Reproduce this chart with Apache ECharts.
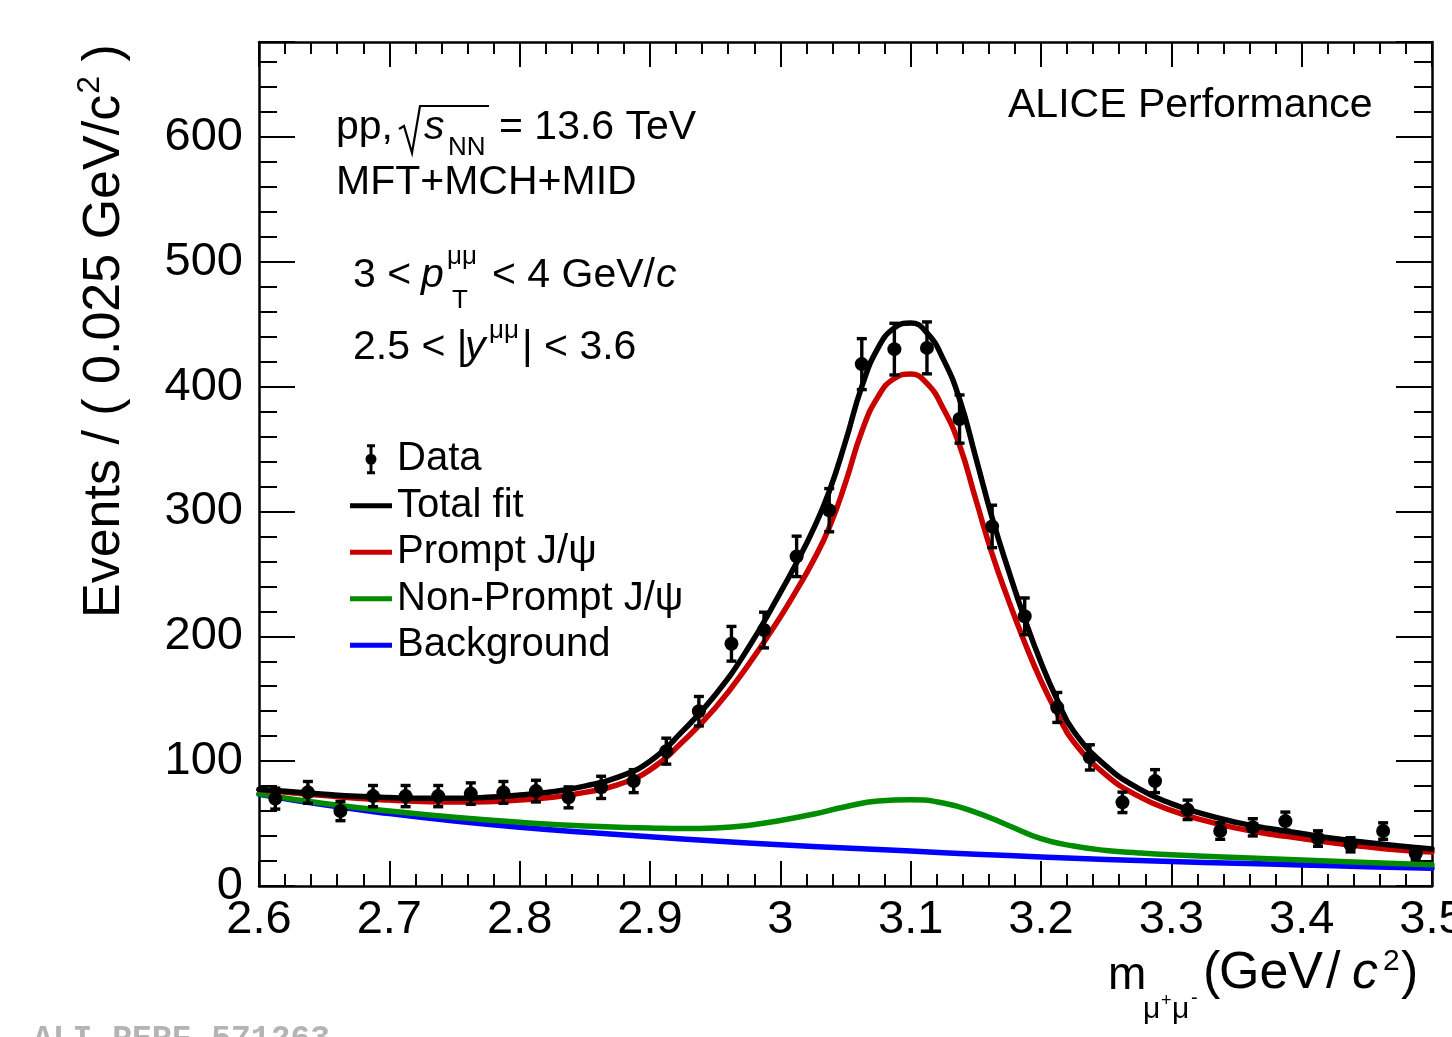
<!DOCTYPE html>
<html>
<head>
<meta charset="utf-8">
<script src="https://cdn.jsdelivr.net/npm/echarts@6/dist/echarts.min.js"></script>
<style>
  html, body { margin: 0; padding: 0; background: #fff; }
  #chart { width: 1452px; height: 1037px; }
</style>
</head>
<body>
<div id="chart"></div>
<script>
// bin centres (0.025 GeV/c2 bins) and counts
var binCenters = [2.6125, 2.6375, 2.6625, 2.6875, 2.7125, 2.7375, 2.7625, 2.7875, 2.8125, 2.8375,
  2.8625, 2.8875, 2.9125, 2.9375, 2.9625, 2.9875, 3.0125, 3.0375, 3.0625, 3.0875,
  3.1125, 3.1375, 3.1625, 3.1875, 3.2125, 3.2375, 3.2625, 3.2875, 3.3125, 3.3375,
  3.3625, 3.3875, 3.4125, 3.4375, 3.4625, 3.4875];
var counts = [70, 75, 60, 72, 72, 72, 74, 75, 76, 71, 79, 84, 108, 140, 194, 205, 264, 301, 418, 430,
  431, 374, 288, 216, 143, 103, 67, 84, 61, 44, 47, 52, 38, 33, 44, 26];
var errors = [8.4, 8.7, 7.7, 8.5, 8.5, 8.5, 8.6, 8.7, 8.7, 8.4, 8.9, 9.2, 10.4, 11.8, 13.9, 14.3, 16.2, 17.3, 20.4, 20.7,
  20.8, 19.3, 17.0, 14.7, 12.0, 10.1, 8.2, 9.2, 7.8, 6.6, 6.9, 7.2, 6.2, 5.7, 6.6, 5.1];

// fit curves
var fitX = [2.6, 2.625, 2.65, 2.675, 2.7, 2.725, 2.75, 2.775, 2.8, 2.825, 2.85, 2.875, 2.9, 2.925, 2.95, 2.975, 3.0,
  3.0125, 3.025, 3.0375, 3.05, 3.0625, 3.075, 3.0875, 3.1, 3.1125, 3.125, 3.1375, 3.15, 3.1625, 3.175, 3.1875, 3.2, 3.2125, 3.225,
  3.25, 3.275, 3.3, 3.325, 3.35, 3.375, 3.4, 3.425, 3.45, 3.475, 3.5];
var totalFit = [77.5, 75.5, 73.5, 71.8, 70.8, 70.2, 70.2, 71, 72.8, 75.5, 80, 87, 100, 124, 153, 190, 235,
  259, 285, 316, 356, 400, 431, 447, 451, 443, 422, 390, 343, 295, 253, 214, 179, 149, 124,
  96, 78, 66, 57.5, 51, 46, 42, 38, 34.8, 32, 29.6];
var promptFit = [77.2, 74.7, 72.5, 70.3, 68.8, 67.7, 67.2, 67.5, 68.8, 71, 75, 81, 93, 115.5, 142.5, 176.5, 215.5,
  237, 260, 287, 323, 364, 392, 406.5, 410, 402.5, 382.5, 353, 309.5, 266, 229, 195, 164.3, 138, 115.5,
  88.8, 71.8, 60.6, 52.5, 46.4, 41.7, 38.1, 34.4, 31.4, 28.9, 27.3];
var nonPromptX = [2.6, 2.65, 2.7, 2.75, 2.8, 2.85, 2.9, 2.925, 2.95, 2.975, 3.0, 3.025, 3.05, 3.075, 3.1, 3.125,
  3.15, 3.175, 3.2, 3.225, 3.25, 3.275, 3.3, 3.35, 3.4, 3.45, 3.5];
var nonPromptFit = [73.8, 66, 60, 55, 51, 48, 46.5, 46, 46.5, 48.5, 52.5, 57.5, 63.5, 68, 69, 66.5,
  59, 48.5, 38, 32, 28.5, 26.5, 25, 22.8, 20.8, 18.9, 17];
var bkgX = [2.6, 2.65, 2.7, 2.75, 2.8, 2.85, 2.9, 2.95, 3.0, 3.05, 3.1, 3.15, 3.2, 3.25, 3.3, 3.35, 3.4, 3.45, 3.5];
var bkgFit = [73.5, 65, 58, 52, 47, 43, 39.5, 36, 33, 30.5, 28, 25.5, 23.3, 21.3, 19.6, 18.2, 16.9, 15.5, 14.2];

var FONT = '"Liberation Sans", Arial, Helvetica, sans-serif';

function zip(xs, ys) {
  var out = [];
  for (var i = 0; i < xs.length; i++) out.push([xs[i], ys[i]]);
  return out;
}

// text piece placed by its alphabetic baseline
function tx(x, base, s, size, italic) {
  return {
    type: 'text', x: x, y: base - 0.35 * size, silent: true,
    style: {
      text: s, fill: '#000',
      font: (italic ? 'italic ' : '') + size + 'px ' + FONT,
      textAlign: 'left', align: 'left',
      textVerticalAlign: 'middle', verticalAlign: 'middle'
    }
  };
}

var ctx = document.createElement('canvas').getContext('2d');
function measure(s, size) {
  ctx.font = size + 'px ' + FONT;
  return ctx.measureText(s).width;
}

var chart = echarts.init(document.getElementById('chart'), null, { renderer: 'canvas' });

var errData = [];
for (var i = 0; i < binCenters.length; i++) {
  errData.push([binCenters[i], counts[i] - errors[i], counts[i] + errors[i]]);
}

var tickStyle = { color: '#000', width: 2 };
function xAxisCfg(pos) {
  return {
    type: 'value', position: pos, min: 2.6, max: 3.5, interval: 0.1,
    axisLine: { show: true, onZero: false, lineStyle: { color: '#000', width: 2.5 } },
    axisTick: { show: true, inside: true, length: 25, lineStyle: tickStyle },
    minorTick: { show: true, splitNumber: 5, length: 12, lineStyle: tickStyle },
    splitLine: { show: false },
    axisLabel: { show: pos === 'bottom', fontSize: 47, fontFamily: FONT, color: '#000', margin: 11 }
  };
}
function yAxisCfg(pos) {
  return {
    type: 'value', position: pos, min: 0, max: 676, interval: 100,
    axisLine: { show: true, onZero: false, lineStyle: { color: '#000', width: 2.5 } },
    axisTick: { show: true, inside: true, length: 36, lineStyle: tickStyle },
    minorTick: { show: true, splitNumber: 5, length: 18, lineStyle: tickStyle },
    splitLine: { show: false },
    axisLabel: { show: pos === 'left', fontSize: 47, fontFamily: FONT, color: '#000', margin: 16, showMaxLabel: false }
  };
}

function fitLine(name, xs, ys, color) {
  return {
    name: name, type: 'line', data: zip(xs, ys), xAxisIndex: 0, yAxisIndex: 0,
    symbol: 'none', smooth: 0.5, color: color,
    lineStyle: { color: color, width: 5.5, cap: 'round', join: 'round' }, itemStyle: { color: color },
    emphasis: { disabled: true }, animation: false
  };
}

// y title pieces (rotated)
var yt1 = 'Events / ( 0.025 GeV/c';
var w1 = measure(yt1, 52);
var w2 = measure('2', 32);

var graphics = [
  tx(1008, 120, 'ALICE Performance', 41),
  tx(336, 142, 'pp,', 41),
  { type: 'polyline', silent: true, shape: { points: [[399, 129], [404, 126], [412, 153], [420, 106], [489, 106]] },
    style: { stroke: '#000', lineWidth: 2.2, fill: null } },
  tx(424, 142, 's', 41, true),
  tx(448, 157, 'NN', 26),
  tx(499, 142, '= 13.6 TeV', 41),
  tx(336, 197, 'MFT+MCH+MID', 41),
  tx(353, 290, '3 <', 41),
  tx(421, 290, 'p', 41, true),
  tx(447, 266, 'μμ', 26),
  tx(452, 310, 'T', 26),
  tx(492, 290, '< 4 GeV/', 41),
  tx(656, 290, 'c', 41, true),
  tx(353, 362, '2.5 < |', 41),
  tx(465, 362, 'y', 41, true),
  tx(489, 340, 'μμ', 26),
  tx(522, 362, '| < 3.6', 41),
  // x title
  tx(1108, 992, 'm', 46),
  tx(1143, 1020, 'μ', 30),
  tx(1161, 1007, '+', 18),
  tx(1172, 1020, 'μ', 30),
  tx(1191, 1005, '-', 20),
  tx(1203, 992, '(', 52),
  tx(1219, 992, 'GeV', 52),
  tx(1326, 992, '/', 52),
  tx(1352, 992, 'c', 52, true),
  tx(1383, 972, '2', 30),
  tx(1401, 992, ')', 52),
  // y title
  {
    type: 'group', x: 123, y: 618, rotation: Math.PI / 2,
    children: [
      tx(0, 0, yt1, 52),
      tx(w1 + 1, -22, '2', 32),
      tx(w1 + 1 + w2, 0, ' )', 52)
    ]
  },
  {
    type: 'text', x: 33, y: 1040, silent: true,
    style: { text: 'ALI-PERF-571263', fill: '#b4b4b4', font: 'bold 33px "Liberation Mono", monospace',
      textVerticalAlign: 'middle', verticalAlign: 'middle' }
  }
];

var option = {
  backgroundColor: '#fff',
  animation: false,
  grid: { left: 259, top: 42, width: 1173, height: 844, containLabel: false, outerBoundsMode: 'none' },
  xAxis: [xAxisCfg('bottom'), xAxisCfg('top')],
  yAxis: [yAxisCfg('left'), yAxisCfg('right')],
  legend: {
    left: 345, top: 431, orient: 'vertical', selectedMode: false,
    itemWidth: 42, itemHeight: 30, itemGap: 0,
    textStyle: { fontSize: 40, fontFamily: FONT, color: '#000', lineHeight: 46.5 },
    data: [
      { name: 'Data', icon: 'path://M3 0H11V3H8.5V27H11V30H3V27H5.5V3H3Z M7 9.5A5.5 5.5 0 1 1 7 20.5A5.5 5.5 0 1 1 7 9.5Z' },
      { name: 'Total fit', icon: 'path://M0 0H42V5H0Z' },
      { name: 'Prompt J/ψ', icon: 'path://M0 0H42V5H0Z' },
      { name: 'Non-Prompt J/ψ', icon: 'path://M0 0H42V5H0Z' },
      { name: 'Background', icon: 'path://M0 0H42V5H0Z' }
    ]
  },
  graphic: graphics,
  series: [
    fitLine('Background', bkgX, bkgFit, '#0000ff'),
    fitLine('Non-Prompt J/ψ', nonPromptX, nonPromptFit, '#008c00'),
    fitLine('Prompt J/ψ', fitX, promptFit, '#c80000'),
    fitLine('Total fit', fitX, totalFit, '#000000'),
    {
      name: 'errors', type: 'custom', data: errData, xAxisIndex: 0, yAxisIndex: 0, z: 5,
      renderItem: function (params, api) {
        var x = api.value(0);
        var lo = api.coord([x, api.value(1)]);
        var hi = api.coord([x, api.value(2)]);
        var w = 5;
        var st = { stroke: '#000', lineWidth: 3.4 };
        return {
          type: 'group',
          children: [
            { type: 'line', shape: { x1: hi[0], y1: hi[1], x2: lo[0], y2: lo[1] }, style: st },
            { type: 'line', shape: { x1: hi[0] - w, y1: hi[1], x2: hi[0] + w, y2: hi[1] }, style: st },
            { type: 'line', shape: { x1: lo[0] - w, y1: lo[1], x2: lo[0] + w, y2: lo[1] }, style: st }
          ]
        };
      },
      animation: false
    },
    {
      name: 'Data', type: 'scatter', data: zip(binCenters, counts), z: 6,
      symbol: 'circle', symbolSize: 14, color: '#000', itemStyle: { color: '#000', opacity: 1 },
      emphasis: { disabled: true }, animation: false
    }
  ]
};

chart.setOption(option);
</script>
</body>
</html>
